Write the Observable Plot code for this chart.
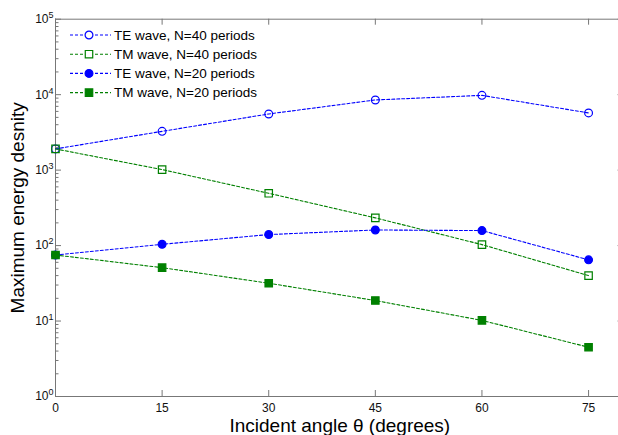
<!DOCTYPE html>
<html><head><meta charset="utf-8">
<script src="https://cdn.jsdelivr.net/npm/d3@7"></script>
<script src="https://cdn.jsdelivr.net/npm/@observablehq/plot@0.6"></script>
<style>
body{margin:0;background:#fff;}
#chart{width:618px;height:435px;overflow:hidden;position:relative;}
</style>
</head><body><div id="chart"></div>
<script>
// ---- data ----
const angles = [0, 15, 30, 45, 60, 75];
const teN40 = [1910, 3265, 5550, 8510, 9790, 5725];
const tmN40 = [1910, 1016, 493, 233, 103, 40];
const teN20 = [75, 104, 140, 161, 158, 64.7];
const tmN20 = [75, 51, 31.7, 18.7, 10.2, 4.5];
const seriesNames = ["TE wave, N=40 periods", "TM wave, N=40 periods", "TE wave, N=20 periods", "TM wave, N=20 periods"];
const xTicks = [0, 15, 30, 45, 60, 75];
const yTicks = [1, 10, 100, 1000, 10000, 100000];
const xLabel = "Incident angle \u03b8 (degrees)";
const yLabel = "Maximum energy desnity";

// ---- styles ----
const BLUE = "#0000ff", GREEN = "#008000", AX = "#777777";
const seriesVals = [teN40, tmN40, teN20, tmN20];
const styles = [
  {c: BLUE, sym: "circle", fill: false},
  {c: GREEN, sym: "square", fill: false},
  {c: BLUE, sym: "circle", fill: true},
  {c: GREEN, sym: "square", fill: true}
];
const yMinor = [];
for (let k = 0; k < 5; k++) for (let m = 2; m < 10; m++) yMinor.push(m * Math.pow(10, k));

const W = 618, H = 435, ML = 55, MR = -5.6, MT = 18.7, MB = 39;
const PW = W - ML - MR, PH = H - MT - MB;

const marks = [];
// frame
marks.push(Plot.ruleY([100000], {stroke: AX}));
marks.push(Plot.ruleY([1], {stroke: AX}));
marks.push(Plot.ruleX([0], {stroke: AX}));
marks.push(Plot.ruleX([80], {stroke: AX}));
// inward ticks
marks.push(Plot.tickX(xTicks, {x: d => d, stroke: AX, insetTop: PH - 6}));
marks.push(Plot.tickX(xTicks, {x: d => d, stroke: AX, insetBottom: PH - 6}));
marks.push(Plot.tickY(yTicks, {y: d => d, stroke: AX, insetRight: PW - 6}));
marks.push(Plot.tickY(yMinor, {y: d => d, stroke: AX, insetRight: PW - 3.5}));
marks.push(Plot.tickY(yTicks, {y: d => d, stroke: AX, insetLeft: PW - 6}));
marks.push(Plot.tickY(yMinor, {y: d => d, stroke: AX, insetLeft: PW - 3.5}));
// series
seriesVals.forEach((vals, i) => {
  const s = styles[i];
  marks.push(Plot.line(angles, {x: d => d, y: (d, j) => vals[j], stroke: s.c, strokeWidth: 1.1, strokeDasharray: "3,2"}));
});
seriesVals.forEach((vals, i) => {
  const s = styles[i];
  marks.push(Plot.dot(angles, {x: d => d, y: (d, j) => vals[j], symbol: s.sym, r: s.sym === "square" ? 4.2 : 3.9,
    fill: s.fill ? s.c : "none", stroke: s.c, strokeWidth: 1.2}));
});
// axes
marks.push(Plot.axisX(xTicks, {anchor: "bottom", tickSize: 0, tickPadding: 7, fontSize: 12, label: null, fill: "#111"}));
marks.push(Plot.axisY(yTicks, {anchor: "left", tickSize: 0, tickPadding: 2, fontSize: 12, label: null, fill: "#111",
  tickFormat: d => String(Math.round(Math.log10(d)))}));
// axis titles
marks.push(Plot.text([xLabel], {frameAnchor: "bottom", lineAnchor: "bottom", dy: 35.7, fontSize: 19, fill: "#000"}));
marks.push(Plot.text([yLabel], {frameAnchor: "left", textAnchor: "middle", lineAnchor: "bottom", rotate: -90, dx: -31.5, fontSize: 19, fill: "#000"}));

const chart = Plot.plot({
  width: W, height: H,
  marginLeft: ML, marginRight: MR, marginTop: MT, marginBottom: MB,
  x: {domain: [0, 80]},
  y: {type: "log", domain: [1, 100000]},
  style: {fontFamily: "'Liberation Sans', Arial, sans-serif", fontSize: "12px", background: "#fff", overflow: "hidden"},
  marks
});
document.getElementById("chart").appendChild(chart);

const svg = d3.select(chart);
// superscript exponents on y tick labels
svg.selectAll('g[aria-label="y-axis tick label"] text').each(function() {
  const e = this.textContent;
  this.textContent = "10";
  d3.select(this).append("tspan").attr("dy", "-5").attr("font-size", "9").text(e);
});

// legend
const leg = svg.append("g").attr("font-family", "'Liberation Sans', Arial, sans-serif").attr("font-size", 13.5)
  .attr("text-anchor", "start");
styles.forEach((s, i) => {
  const y = 35 + i * 19.2;
  leg.append("line").attr("x1", 70).attr("x2", 111).attr("y1", y).attr("y2", y)
    .attr("stroke", s.c).attr("stroke-width", 1.1).attr("stroke-dasharray", "3,2");
  const r = s.sym === "square" ? 4.2 : 3.9;
  leg.append("path").attr("d", d3.symbol(s.sym === "square" ? d3.symbolSquare : d3.symbolCircle, r * r * Math.PI)())
    .attr("transform", `translate(89,${y})`)
    .attr("fill", s.fill ? s.c : "#fff").attr("stroke", s.c).attr("stroke-width", 1.2);
  leg.append("text").attr("x", 114).attr("y", y).attr("dy", "0.35em").attr("text-anchor", "start")
    .attr("fill", "#000").text(seriesNames[i]);
});
</script>
</body></html>
